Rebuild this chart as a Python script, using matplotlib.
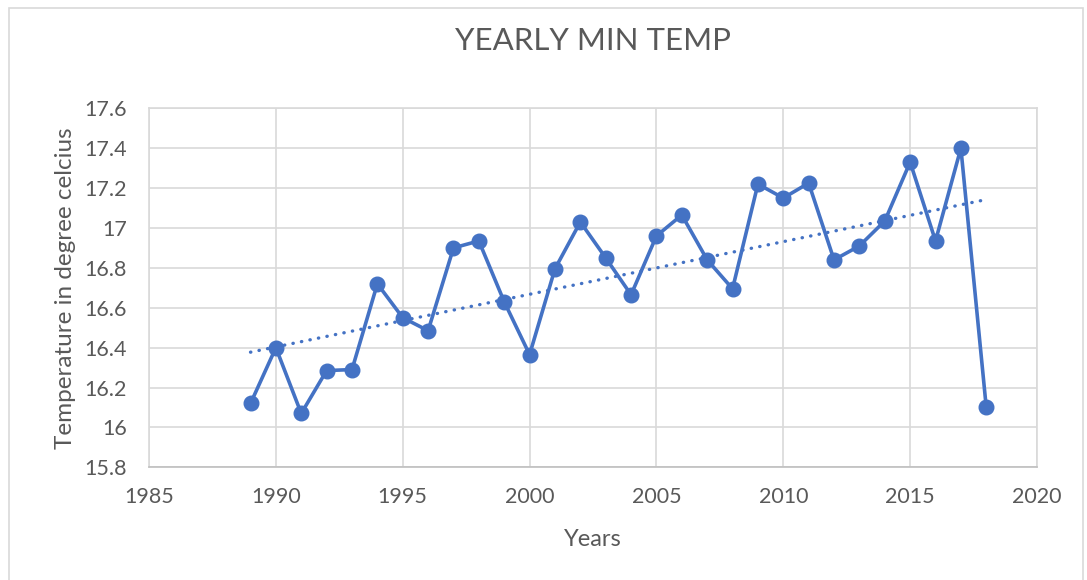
import numpy as np
import matplotlib.pyplot as plt
from matplotlib.patches import Rectangle

years = list(range(1989, 2019))
min_temp = [16.12, 16.40, 16.07, 16.285, 16.29, 16.72, 16.55, 16.485, 16.90, 16.935,
            16.63, 16.365, 16.795, 17.03, 16.85, 16.665, 16.96, 17.065, 16.84, 16.695,
            17.22, 17.15, 17.225, 16.84, 16.91, 17.035, 17.33, 16.935, 17.40, 16.10]
x_ticks = [1985, 1990, 1995, 2000, 2005, 2010, 2015, 2020]
y_ticks = [15.8, 16, 16.2, 16.4, 16.6, 16.8, 17, 17.2, 17.4, 17.6]

plt.rcParams['font.family'] = ['Lato', 'DejaVu Sans']
blue = '#4472C4'
grey_txt = '#595959'

fig = plt.figure(figsize=(10.87, 5.80), dpi=100)
ax = fig.add_axes([0.1371, 0.1943, 0.8169, 0.619])

# chart border
fig.patches.append(Rectangle((9 / 1087, -0.01), 1074 / 1087, 0.996, transform=fig.transFigure,
                             fill=False, edgecolor='#D9D9D9', lw=1.2))

ax.plot(years, min_temp, color=blue, lw=2.6, marker='o', markersize=10.5, zorder=3)

# linear trendline
k, b = np.polyfit(years, min_temp, 1)
tx = np.array([years[0], years[-1]])
ax.plot(tx, k * tx + b, color=blue, lw=2.4, linestyle=(0, (0.1, 2.5)),
        dash_capstyle='round', zorder=2)

ax.set_xlim(1985, 2020)
ax.set_ylim(15.8, 17.6)
ax.set_xticks(x_ticks)
ax.set_yticks(y_ticks)
ax.set_yticklabels([f'{v:g}' for v in y_ticks])
ax.grid(True, color='#D9D9D9', lw=1.2)
ax.set_axisbelow(True)
for s in ax.spines.values():
    s.set_color('#D9D9D9')
    s.set_linewidth(1.2)
ax.spines['bottom'].set_color('#BFBFBF')
ax.tick_params(length=0, labelsize=15.5, colors=grey_txt)
ax.tick_params(axis='x', pad=14)
ax.tick_params(axis='y', pad=16)

ax.set_title('YEARLY MIN TEMP', fontsize=22.5, color=grey_txt, pad=42)
ax.set_xlabel('Years', fontsize=17, color=grey_txt, labelpad=16)
ax.set_ylabel('Temperature in degree celcius', fontsize=17.5, color=grey_txt, labelpad=6)

fig.savefig('out.png', dpi=100)
